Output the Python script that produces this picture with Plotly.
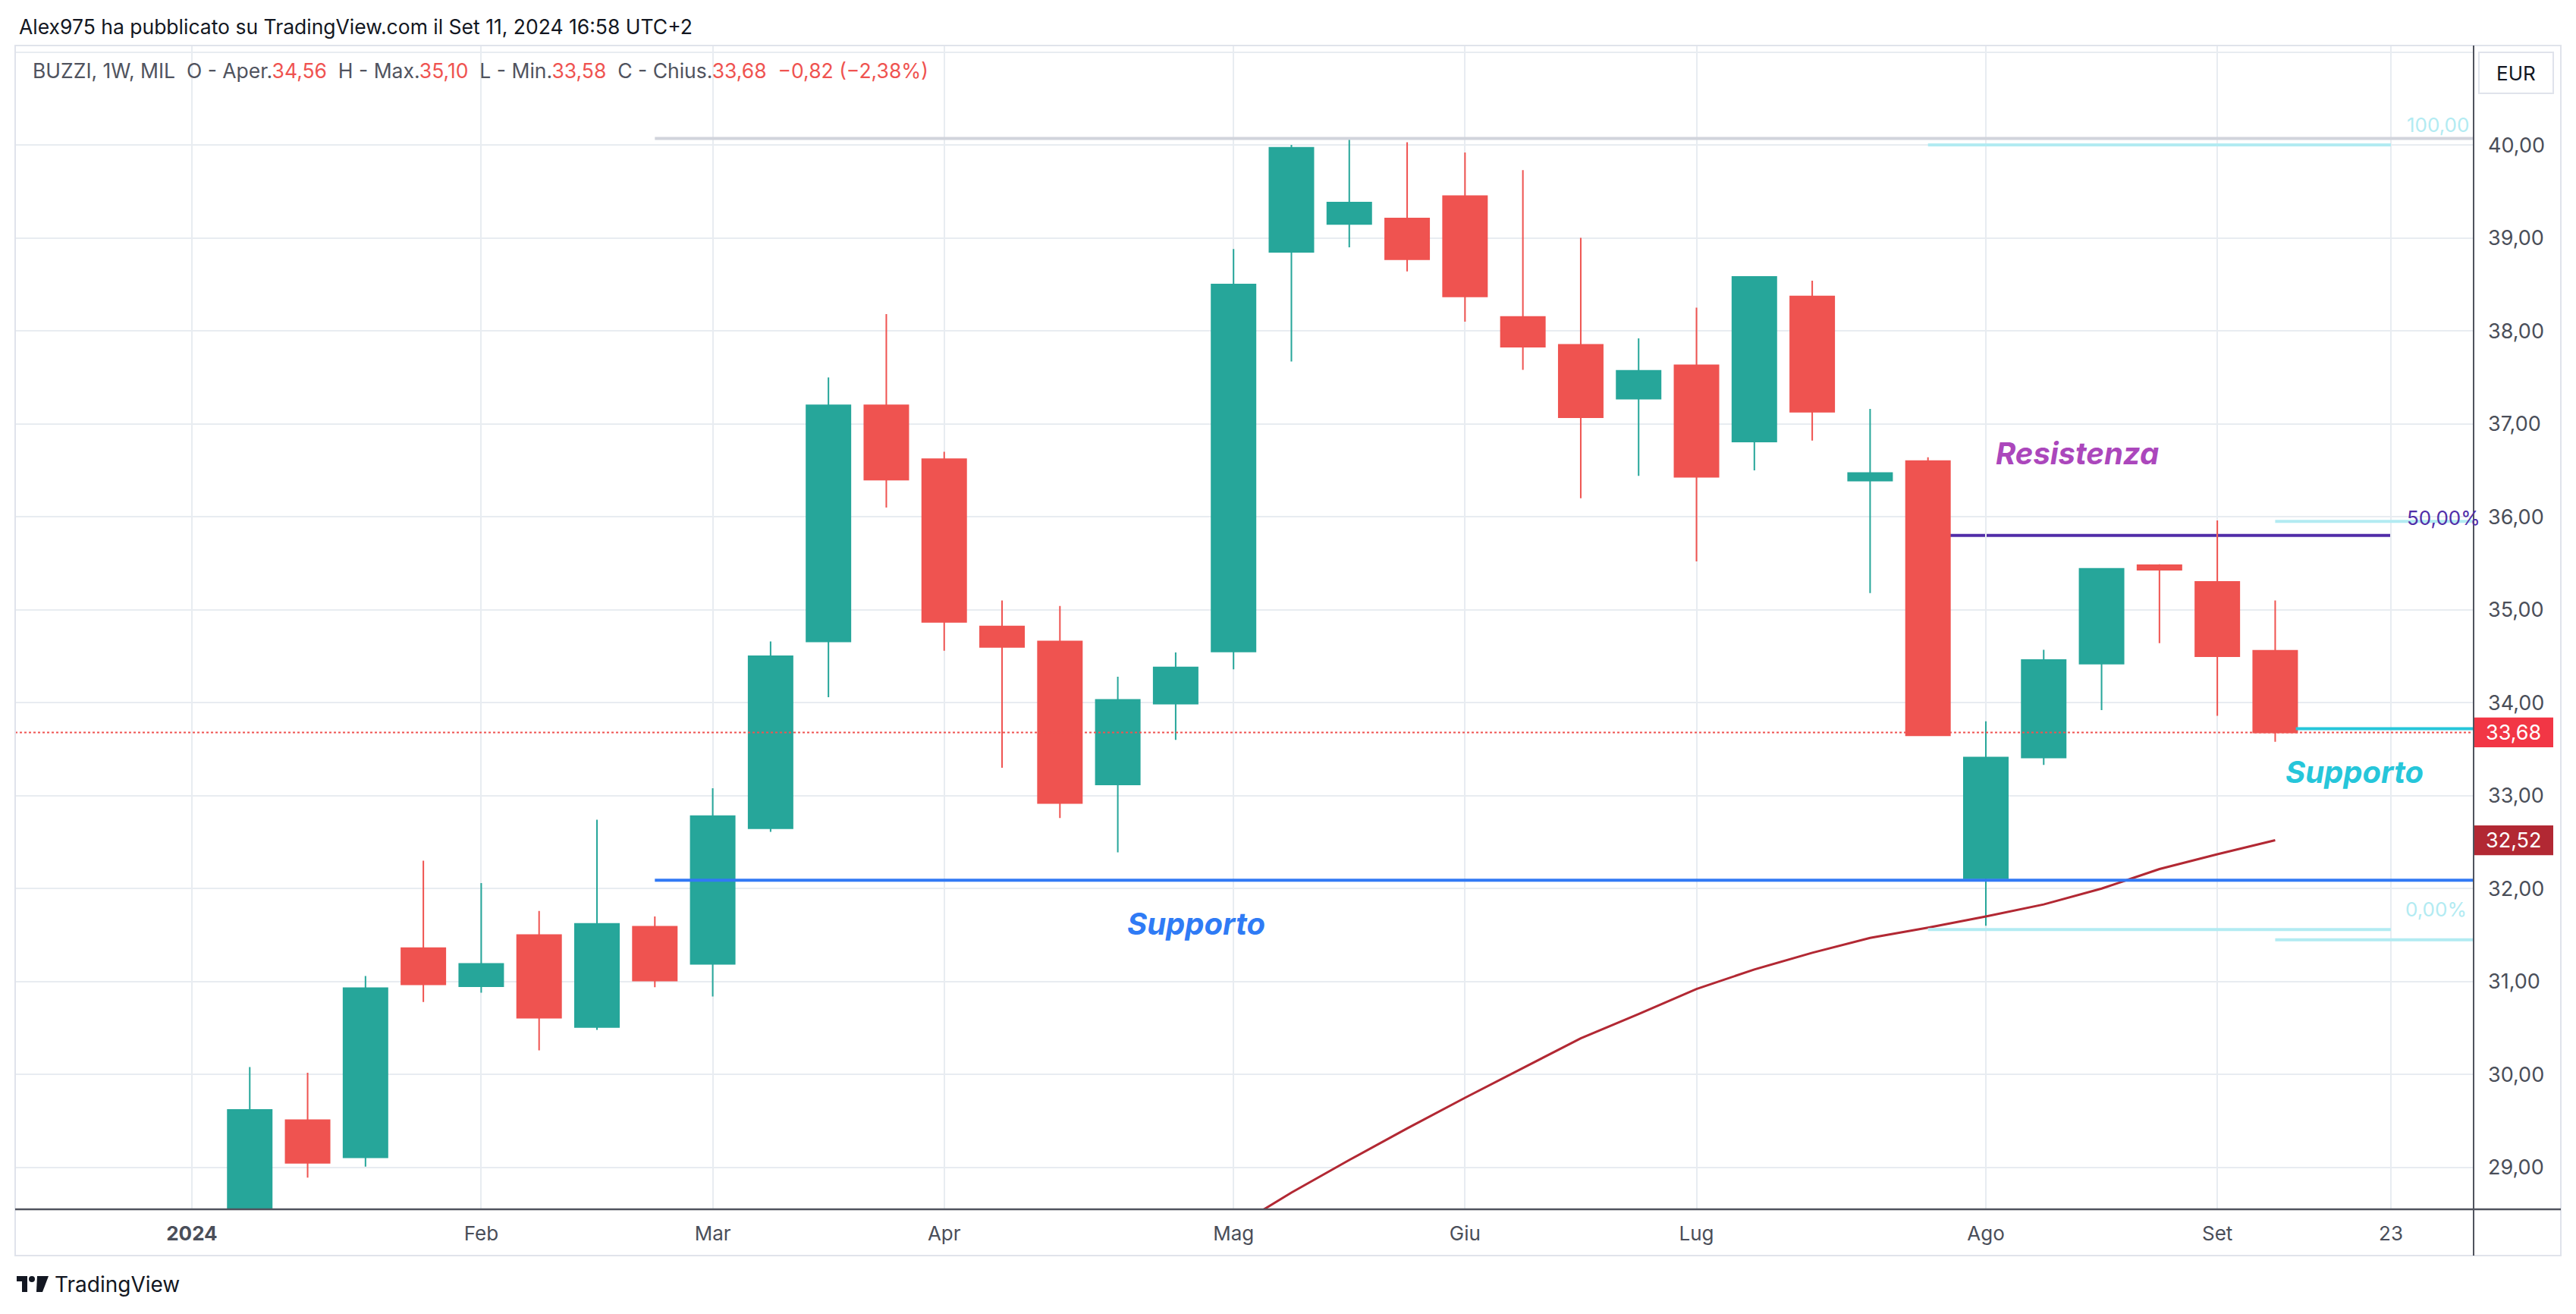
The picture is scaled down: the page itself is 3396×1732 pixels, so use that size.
import plotly.graph_objects as go

# ---------------- data ----------------
dates = ["2024-01-08", "2024-01-15", "2024-01-22", "2024-01-29", "2024-02-05", "2024-02-12",
         "2024-02-19", "2024-02-26", "2024-03-04", "2024-03-11", "2024-03-18", "2024-03-25",
         "2024-04-01", "2024-04-08", "2024-04-15", "2024-04-22", "2024-04-29", "2024-05-06",
         "2024-05-13", "2024-05-20", "2024-05-27", "2024-06-03", "2024-06-10", "2024-06-17",
         "2024-06-24", "2024-07-01", "2024-07-08", "2024-07-15", "2024-07-22", "2024-07-29",
         "2024-08-05", "2024-08-12", "2024-08-19", "2024-08-26", "2024-09-02", "2024-09-09"]
opens = [28.20, 29.51, 29.11, 31.36, 30.95, 31.50, 30.51, 31.59, 31.19, 32.65, 34.66, 37.20,
         36.62, 34.82, 34.66, 33.12, 33.99, 34.55, 38.85, 39.15, 39.21, 39.45, 38.15, 37.85,
         37.27, 37.63, 36.81, 38.37, 36.39, 36.60, 32.11, 33.41, 34.42, 35.48, 35.30, 34.56]
highs = [30.08, 30.02, 31.06, 32.30, 32.06, 31.76, 32.74, 31.70, 33.08, 34.66, 37.50, 38.18,
         36.70, 35.10, 35.04, 34.28, 34.54, 38.88, 40.00, 40.07, 40.03, 39.92, 39.73, 39.00,
         37.92, 38.25, 38.58, 38.54, 37.16, 36.64, 33.80, 34.57, 35.44, 35.49, 35.96, 35.10]
lows = [28.00, 28.89, 29.01, 30.78, 30.88, 30.26, 30.48, 30.94, 30.84, 32.61, 34.06, 36.10,
        34.56, 33.30, 32.76, 32.39, 33.60, 34.36, 37.67, 38.90, 38.64, 38.10, 37.58, 36.20,
        36.44, 35.52, 36.50, 36.82, 35.18, 33.65, 31.60, 33.33, 33.92, 34.64, 33.86, 33.58]
closes = [29.62, 29.05, 30.93, 30.97, 31.19, 30.61, 31.62, 31.01, 32.78, 34.50, 37.20, 36.40,
          34.87, 34.60, 32.92, 34.03, 34.38, 38.50, 39.97, 39.38, 38.77, 38.37, 37.83, 37.07,
          37.57, 36.43, 38.58, 37.13, 36.47, 33.65, 33.41, 34.46, 35.44, 35.43, 34.50, 33.68]

ma_dates = dates[17:]
ma_values = [28.35, 28.73, 29.08, 29.42, 29.75, 30.07, 30.39, 30.65, 30.92, 31.13,
             31.31, 31.47, 31.58, 31.70, 31.83, 32.00, 32.21, 32.37, 32.52]

tick_dates = ["2024-01-01", "2024-02-05", "2024-03-04", "2024-04-01", "2024-05-06",
              "2024-06-03", "2024-07-01", "2024-08-05", "2024-09-02", "2024-09-23"]
tick_labels = ["<b>2024</b>", "Feb", "Mar", "Apr", "Mag", "Giu", "Lug", "Ago", "Set", "23"]
price_ticks = [29, 30, 31, 32, 33, 34, 35, 36, 37, 38, 39, 40, 41]

# drawn levels
top_level = 40.07
support_level = 32.09
fib_100 = 40.00
fib_50 = 35.80
fib_0 = 31.56
fib2_50 = 35.95
fib2_0 = 31.45
support2_level = 33.72

# ---------------- layout geometry ----------------
W, H = 3396, 1732
L, R, T, B = 20, 3261, 60, 1594
PW, PH = R - L, B - T
x_start, x_end = "2023-12-10 15:00", "2024-10-03 00:00"
y_min, y_max = 28.55, 41.07


def px(x):
    return (x - L) / PW


def py(y):
    return (B - y) / PH


def fmt(v):
    return f"{v:.2f}".replace(".", ",")


GREEN, RED = "#26a69a", "#ef5350"
GRID = "#e8ecf1"
TXT = "#4a4e59"
FONT = "Inter, Roboto, sans-serif"

fig = go.Figure()
fig.add_trace(go.Candlestick(
    x=dates, open=opens, high=highs, low=lows, close=closes,
    increasing=dict(line=dict(color=GREEN, width=2), fillcolor=GREEN),
    decreasing=dict(line=dict(color=RED, width=2), fillcolor=RED),
    whiskerwidth=0, showlegend=False, hoverinfo="skip"))
fig.add_trace(go.Scatter(x=ma_dates, y=ma_values, mode="lines",
                         line=dict(color="#b22833", width=3),
                         showlegend=False, hoverinfo="skip"))

shapes = []


def hline(x0, x1, y, color, width=4, layer="above", dash=None):
    shapes.append(dict(type="line", xref="x", yref="y", x0=x0, x1=x1, y0=y, y1=y,
                       layer=layer, line=dict(color=color, width=width, dash=dash)))


hline(dates[7], x_end, top_level, "#d1d4dc")
hline(dates[7], x_end, support_level, "#3179f5")
hline(dates[29], "2024-09-23", fib_100, "#b2ebf2")
hline(dates[29], "2024-09-23", fib_50, "#512da8", layer="below")
hline(dates[29], "2024-09-23", fib_0, "#b2ebf2")
hline(dates[35], x_end, fib2_50, "#b2ebf2")
hline(dates[35], x_end, fib2_0, "#b2ebf2")
hline("2024-09-11 12:00", x_end, support2_level, "#26c6da")
# last price dotted line
shapes.append(dict(type="line", xref="paper", yref="y", x0=0, x1=1, y0=closes[-1], y1=closes[-1],
                   line=dict(color=RED, width=2, dash="dot")))
# frame
shapes.append(dict(type="rect", xref="paper", yref="paper", x0=px(20), x1=px(3376), y0=py(1655), y1=py(60),
                   line=dict(color="#e0e3eb", width=2)))
shapes.append(dict(type="line", xref="paper", yref="paper", x0=px(20), x1=px(3376), y0=py(1594), y1=py(1594),
                   line=dict(color="#50535e", width=2.5)))
shapes.append(dict(type="line", xref="paper", yref="paper", x0=px(3261), x1=px(3261), y0=py(1655), y1=py(60),
                   line=dict(color="#50535e", width=2)))
# price labels boxes
for val, col in [(closes[-1], "#f23645"), (ma_values[-1], "#b22833")]:
    shapes.append(dict(type="rect", xref="paper", yref="y", x0=px(3262), x1=px(3366),
                       y0=val - 0.16, y1=val + 0.16, fillcolor=col, line=dict(width=0)))
# EUR box
shapes.append(dict(type="rect", xref="paper", yref="paper", x0=px(3268), x1=px(3366), y0=py(123), y1=py(69),
                   fillcolor="white", line=dict(color="#e0e3eb", width=2)))


# TradingView logo
def path_px(pts):
    return "M" + " L".join(f"{px(a):.6f},{py(b):.6f}" for a, b in pts) + " Z"


shapes.append(dict(type="path", xref="paper", yref="paper",
                   path=path_px([(22, 1682), (36, 1682), (36, 1703), (29, 1703), (29, 1689), (22, 1689)]),
                   fillcolor="#131722", line=dict(width=0)))
shapes.append(dict(type="circle", xref="paper", yref="paper", x0=px(38), x1=px(46), y0=py(1690), y1=py(1682),
                   fillcolor="#131722", line=dict(width=0)))
shapes.append(dict(type="path", xref="paper", yref="paper",
                   path=path_px([(49, 1682), (64, 1682), (56, 1703), (48, 1703)]),
                   fillcolor="#131722", line=dict(width=0)))

ann = []
ann.append(dict(text="Alex975 ha pubblicato su TradingView.com il Set 11, 2024 16:58 UTC+2",
                x=px(23), y=py(35), xanchor="left", yanchor="middle",
                font=dict(size=26.5, color="#131722")))
chg = closes[-1] - closes[-2]
pct = chg / closes[-2] * 100
sp = "\u00a0\u00a0"


def red(s):
    return f"<span style='color:{RED}'>{s}</span>"


legend_txt = ("BUZZI, 1W, MIL" + sp + "O - Aper." + red(fmt(opens[-1])) + sp + "H - Max." + red(fmt(highs[-1]))
              + sp + "L - Min." + red(fmt(lows[-1])) + sp + "C - Chius." + red(fmt(closes[-1])) + sp
              + red(fmt(chg).replace("-", "\u2212") + " (" + fmt(pct).replace("-", "\u2212") + "%)"))
ann.append(dict(text=legend_txt, x=px(41), y=py(93), xanchor="left", yanchor="middle",
                font=dict(size=26.5, color="#50535e")))
ann.append(dict(text="<b><i>Supporto</i></b>", x=px(1577), y=py(1217), xanchor="center", yanchor="middle",
                font=dict(size=40, color="#2f7bf5")))
ann.append(dict(text="<b><i>Resistenza</i></b>", x=px(2738), y=py(598), xanchor="center", yanchor="middle",
                font=dict(size=40, color="#ab47bc")))
ann.append(dict(text="<b><i>Supporto</i></b>", x=px(3104), y=py(1018), xanchor="center", yanchor="middle",
                font=dict(size=40, color="#26c6da")))
ann.append(dict(text="100,00", x=px(3171), y=py(165), xanchor="left", yanchor="middle",
                font=dict(size=26, color="#b2ebf2")))
ann.append(dict(text="50,00%", x=px(3171), y=py(682), xanchor="left", yanchor="middle",
                font=dict(size=26, color="#512da8")))
ann.append(dict(text="0,00%", x=px(3169), y=py(1198), xanchor="left", yanchor="middle",
                font=dict(size=26, color="#b2ebf2")))
for val in [closes[-1], ma_values[-1]]:
    ann.append(dict(text=fmt(val), xref="paper", yref="y", x=px(3314), y=val, xanchor="center",
                    yanchor="middle", font=dict(size=27, color="white")))
ann.append(dict(text="EUR", x=px(3317), y=py(96), xanchor="center", yanchor="middle",
                font=dict(size=26, color="#131722")))
ann.append(dict(text="TradingView", x=px(70), y=py(1693), xanchor="left", yanchor="middle",
                font=dict(size=28, color="#131722")))
for a in ann:
    a.setdefault("xref", "paper")
    a.setdefault("yref", "paper")
    a["showarrow"] = False

fig.update_layout(
    width=W, height=H,
    margin=dict(l=L, r=W - R, t=T, b=H - B, pad=0),
    paper_bgcolor="white", plot_bgcolor="white",
    separators=",.",
    boxgap=0.24, boxgroupgap=0,
    font=dict(family=FONT, color=TXT),
    shapes=shapes, annotations=ann,
    showlegend=False,
    xaxis=dict(type="date", range=[x_start, x_end], tickvals=tick_dates, ticktext=tick_labels,
               showgrid=True, gridcolor=GRID, gridwidth=2, zeroline=False, showline=False,
               ticks="", tickfont=dict(size=26, color=TXT), ticklabelstandoff=14,
               rangeslider=dict(visible=False), automargin=False, fixedrange=True),
    yaxis=dict(side="right", range=[y_min, y_max], tickvals=price_ticks,
               ticktext=[fmt(v) if v <= 40 else "" for v in price_ticks],
               showgrid=True, gridcolor=GRID, gridwidth=2, zeroline=False, showline=False,
               ticks="", tickfont=dict(size=27, color=TXT), ticklabelstandoff=18,
               automargin=False, fixedrange=True),
)

fig.write_html("out.html")
